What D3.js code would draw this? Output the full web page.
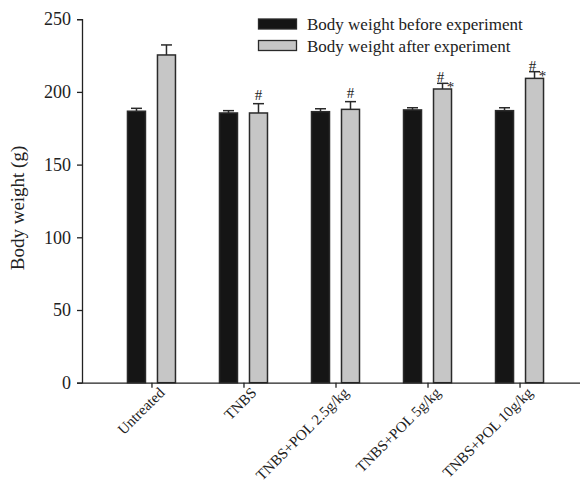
<!DOCTYPE html>
<html>
<head>
<meta charset="utf-8">
<script src="https://cdn.jsdelivr.net/npm/d3@7"></script>
<style>
  html, body { margin: 0; padding: 0; background: #fff; }
  svg { display: block; }
  text { font-family: "Liberation Serif", "Times New Roman", serif; fill: #222; }
</style>
</head>
<body>
<div id="chart"></div>
<script>
const categories = ["Untreated", "TNBS", "TNBS+POL 2.5g/kg", "TNBS+POL 5g/kg", "TNBS+POL 10g/kg"];
const seriesNames = ["Body weight before experiment", "Body weight after experiment"];
const before = [186.7, 185.5, 186.4, 187.6, 187.1];
const beforeErr = [2.0, 1.6, 2.0, 1.5, 2.0];
const after = [225.4, 185.5, 188.0, 202.0, 209.3];
const afterErr = [6.9, 6.4, 5.3, 3.9, 4.6];
const afterMarks = ["", "#", "#", "#*", "#*"];
const yTicks = [0, 50, 100, 150, 200, 250];

const W = 580, H = 487;
const svg = d3.select("#chart").append("svg").attr("width", W).attr("height", H);

const y = d3.scaleLinear().domain([0, 250]).range([382.7, 19.2]);
const x = d3.scalePoint().domain(categories).range([82, 589]).padding(0.755);

const barW = 18, gap = 6;
const fills = ["#151515", "#c6c6c6"];

const series = [before, after];
const errs = [beforeErr, afterErr];
series.forEach((vals, si) => {
  const off = si === 0 ? -(gap + barW) : gap;
  const g = svg.append("g");
  g.selectAll("rect").data(vals).enter().append("rect")
    .attr("x", (d, i) => x(categories[i]) + off)
    .attr("y", d => y(d))
    .attr("width", barW)
    .attr("height", d => y(0) - y(d))
    .attr("fill", fills[si])
    .attr("stroke", "#2a2a2a")
    .attr("stroke-width", 1.5);
  g.selectAll("line.v").data(vals).enter().append("line")
    .attr("x1", (d, i) => x(categories[i]) + off + barW / 2)
    .attr("x2", (d, i) => x(categories[i]) + off + barW / 2)
    .attr("y1", d => y(d))
    .attr("y2", (d, i) => y(d + errs[si][i]))
    .attr("stroke", "#2a2a2a").attr("stroke-width", 1.5);
  g.selectAll("line.c").data(vals).enter().append("line")
    .attr("x1", (d, i) => x(categories[i]) + off + barW / 2 - 5.5)
    .attr("x2", (d, i) => x(categories[i]) + off + barW / 2 + 5.5)
    .attr("y1", (d, i) => y(d + errs[si][i]))
    .attr("y2", (d, i) => y(d + errs[si][i]))
    .attr("stroke", "#2a2a2a").attr("stroke-width", 1.5);
});

after.forEach((d, i) => {
  const m = afterMarks[i];
  if (!m) return;
  const cx = x(categories[i]) + gap + barW / 2;
  const cy = y(d + afterErr[i]);
  if (m === "#") {
    svg.append("text").attr("x", cx).attr("y", cy - 4).attr("text-anchor", "middle")
      .attr("font-size", 15).attr("fill", "#555").text("#");
  } else {
    svg.append("text").attr("x", cx - 2).attr("y", cy - 1).attr("text-anchor", "middle")
      .attr("font-size", 15).attr("fill", "#555").text("#");
    svg.append("text").attr("x", cx + 8).attr("y", cy + 9).attr("text-anchor", "middle")
      .attr("font-size", 15).attr("fill", "#555").text("*");
  }
});

const yAxis = svg.append("g").attr("transform", "translate(82,0)")
  .call(d3.axisLeft(y).tickValues(yTicks).tickSize(5).tickPadding(6));
yAxis.select(".domain").attr("stroke", "#222").attr("stroke-width", 1.3);
yAxis.selectAll(".tick line").attr("stroke", "#222").attr("stroke-width", 1.3);
yAxis.selectAll(".tick text").attr("font-size", 18).attr("font-family", "Liberation Serif, serif").attr("fill", "#222");

const xAxis = svg.append("g").attr("transform", `translate(0,${y(0)})`)
  .call(d3.axisBottom(x).tickSize(5).tickSizeOuter(0).tickFormat(() => ""));
xAxis.select(".domain").attr("stroke", "#222").attr("stroke-width", 1.3);
xAxis.selectAll(".tick line").attr("stroke", "#222").attr("stroke-width", 1.3);

svg.append("g").selectAll("text").data(categories).enter().append("text")
  .attr("transform", d => `translate(${x(d) + 14},${y(0) + 11}) rotate(-45)`)
  .attr("text-anchor", "end")
  .attr("font-size", 15)
  .text(d => d);

svg.append("text")
  .attr("transform", "translate(24,208) rotate(-90)")
  .attr("text-anchor", "middle")
  .attr("font-size", 19)
  .text("Body weight (g)");

const legend = svg.append("g");
seriesNames.forEach((name, i) => {
  const ly = 19 + i * 21.5;
  legend.append("rect").attr("x", 258.5).attr("y", ly).attr("width", 38).attr("height", 10)
    .attr("fill", fills[i]).attr("stroke", "#2a2a2a").attr("stroke-width", 1.3);
  legend.append("text").attr("x", 307).attr("y", ly + 11).attr("font-size", 17).text(name);
});
</script>
</body>
</html>
